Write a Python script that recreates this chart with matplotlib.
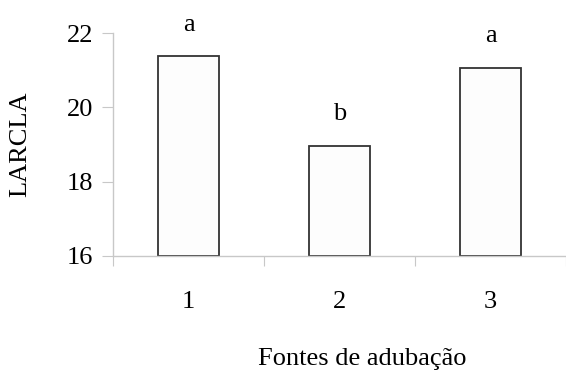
import matplotlib.pyplot as plt

tratamentos = ['1', '2', '3']
larcla = [21.38, 18.96, 21.06]
letras = ['a', 'b', 'a']

plt.rcParams['font.family'] = ['Liberation Serif', 'DejaVu Serif']

fig = plt.figure(figsize=(5.66, 3.72), dpi=100)
ax = fig.add_axes([0.1996, 0.312, 0.8004, 0.599])

x = [1, 2, 3]
ax.bar(x, [v - 16 for v in larcla], bottom=16, width=0.4,
       color='#fdfdfd', edgecolor='#333333', linewidth=1.3)

for xi, v, l in zip(x, larcla, letras):
    ax.text(xi, v + 0.85, l, ha='center', va='center', fontsize=19)

ax.set_ylim(16, 22)
ax.set_yticks([16, 18, 20, 22])
ax.set_xlim(0.5, 3.47)
ax.set_xticks([0.5, 1.5, 2.5, 3.5])
ax.set_xticklabels([])
ax.set_xticks(x, minor=True)
ax.set_xticklabels(tratamentos, minor=True)

for s in ['top', 'right']:
    ax.spines[s].set_visible(False)
for s in ['left', 'bottom']:
    ax.spines[s].set_color('#c8c8c8')
    ax.spines[s].set_linewidth(1.0)

ax.tick_params(axis='y', colors='#c8c8c8', labelcolor='black',
               labelsize=19, length=8, pad=6)
ax.tick_params(axis='x', which='major', colors='#c8c8c8', length=7, direction='out')
ax.tick_params(axis='x', which='minor', length=0, labelsize=19, pad=25)

ax.set_xlabel('Fontes de adubação', fontsize=19)
ax.xaxis.set_label_coords(0.55, -0.415)
ax.set_ylabel('LARCLA', fontsize=19, labelpad=26)

fig.savefig('out.png', dpi=100)
